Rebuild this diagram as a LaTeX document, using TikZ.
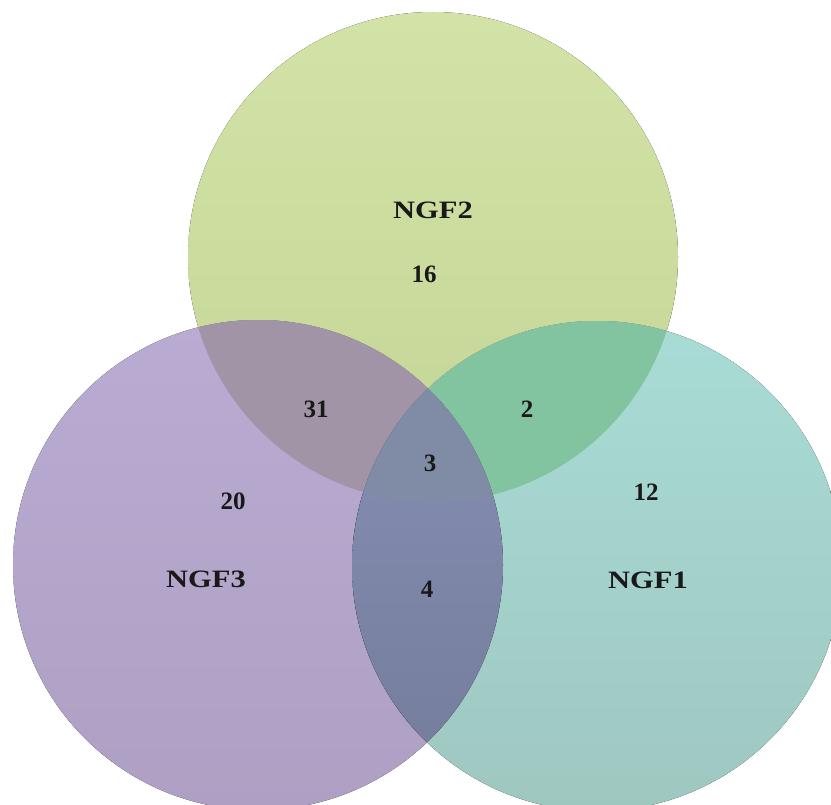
\documentclass[tikz,border=0pt]{standalone}
\usepackage{fontspec}
\setmainfont{Liberation Serif}
\definecolor{ngfgreentop}{HTML}{D3E3A8}
\definecolor{ngfgreenbot}{HTML}{C3D595}
\definecolor{ngfpurpletop}{HTML}{BAABD3}
\definecolor{ngfpurplebot}{HTML}{AE9FC3}
\definecolor{ngftealtop}{HTML}{A9DCD6}
\definecolor{ngftealbot}{HTML}{9EC7C0}
\definecolor{greenpurple}{HTML}{A094A6}
\definecolor{greenteal}{HTML}{82C4A0}
\definecolor{purpleteal}{HTML}{8891B6}
\definecolor{allthree}{HTML}{808CA6}
\newcommand{\circGreen}{(433,257) circle (245)}
\newcommand{\circPurple}{(258,565) circle (245)}
\newcommand{\circTeal}{(597,566) circle (245)}
\tikzset{
  setname/.style={font=\bfseries\fontsize{25}{30}\selectfont, xscale=1.22, text=black!90},
  count/.style={font=\bfseries\fontsize{25}{30}\selectfont, text=black!90}
}
\begin{document}
\begin{tikzpicture}[x=1pt,y=-1pt]
    \useasboundingbox (0,0) rectangle (831,805);
    \clip (0,0) rectangle (831,805);
    \fill[white] (0,0) rectangle (831,805);

    % single sets
    \fill[top color=ngfgreentop, bottom color=ngfgreenbot] \circGreen;
    \fill[top color=ngfpurpletop, bottom color=ngfpurplebot] \circPurple;
    \fill[top color=ngftealtop, bottom color=ngftealbot] \circTeal;

    % pairwise overlaps
    \begin{scope}
        \clip \circGreen;
        \fill[greenpurple] \circPurple;
        \fill[greenteal] \circTeal;
    \end{scope}
    \begin{scope}
        \clip \circPurple;
        \fill[top color=purpleteal, bottom color=purpleteal!85!black] \circTeal;
    \end{scope}

    % all three
    \begin{scope}
        \clip \circGreen;
        \clip \circPurple;
        \fill[allthree] \circTeal;
    \end{scope}

    \node at (433,210) [setname] (NGF2) {NGF2};
    \node at (206,579) [setname] (NGF3) {NGF3};
    \node at (648,580) [setname] (NGF1) {NGF1};

    \node at (424,274) [count] (n2) {16};
    \node at (233,501) [count] (n3) {20};
    \node at (646,492) [count] (n1) {12};
    \node at (316,409) [count] (n23) {31};
    \node at (527,409) [count] (n12) {2};
    \node at (427,589) [count] (n13) {4};
    \node at (430,463) [count] (n123) {3};
\end{tikzpicture}
\end{document}
